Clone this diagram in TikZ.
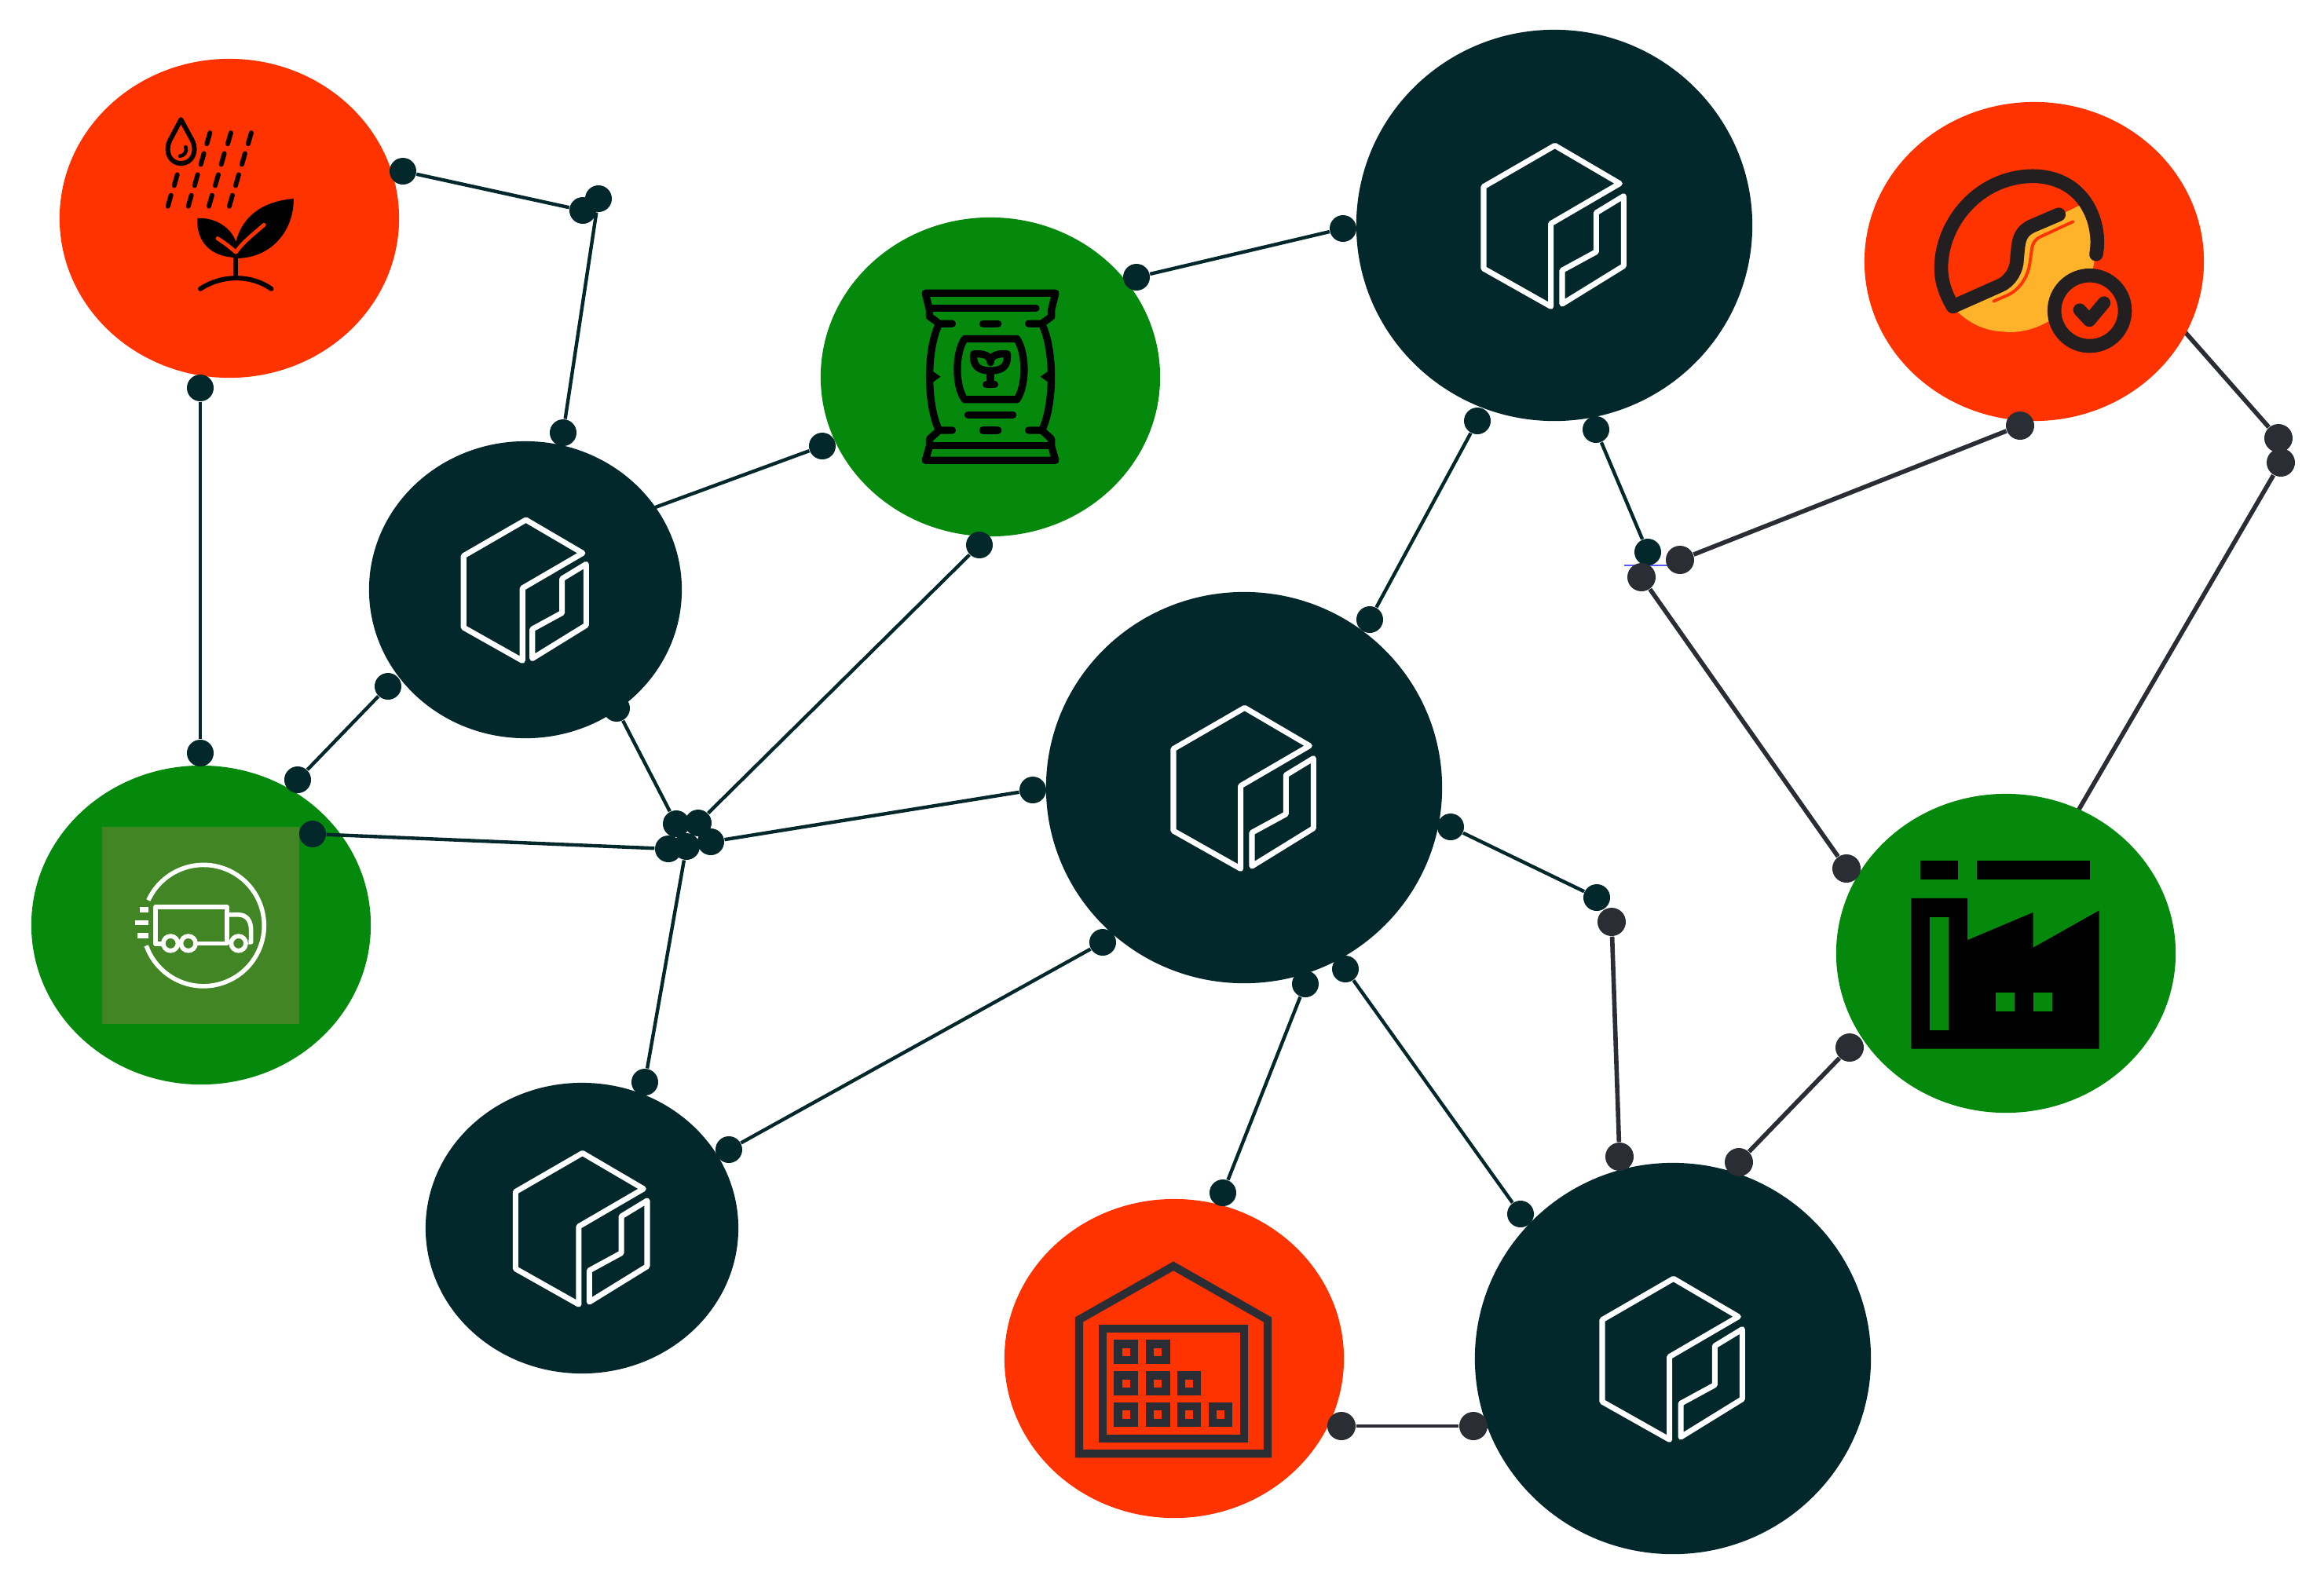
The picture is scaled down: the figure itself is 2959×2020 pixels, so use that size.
\documentclass[tikz,border=0pt]{standalone}
\usepackage{tikz}
\usetikzlibrary{shapes, backgrounds}
\definecolor{hotred}{HTML}{FF3300}
\definecolor{leaf}{HTML}{04890D}
\definecolor{deep}{HTML}{03282B}
\definecolor{slate}{HTML}{2A2D33}
\definecolor{amber}{HTML}{FFB32A}
\definecolor{ink}{HTML}{231F20}
\definecolor{olive}{HTML}{428525}
\tikzstyle{redblob} = [ellipse, fill = hotred, inner sep = 0pt, minimum width = 4.32cm, minimum height = 4.06cm]
\tikzstyle{greenblob} = [ellipse, fill = leaf, inner sep = 0pt, minimum width = 4.32cm, minimum height = 4.06cm]
\tikzstyle{hubbig} = [ellipse, fill = deep, inner sep = 0pt, minimum width = 5.04cm, minimum height = 4.98cm]
\tikzstyle{hubsmall} = [ellipse, fill = deep, inner sep = 0pt, minimum width = 3.98cm, minimum height = 3.78cm]
\tikzstyle{joint} = [circle, fill = deep, inner sep = 0pt, minimum size = 0.34cm]
\tikzstyle{jointg} = [circle, fill = slate, inner sep = 0pt, minimum size = 0.36cm]
\tikzstyle{link} = [draw = deep, line width = 1.25pt]
\tikzstyle{linkg} = [draw = slate, line width = 1.6pt]
\tikzstyle{faint} = [draw = blue!65, line width = 0.5pt]
\tikzstyle{cube} = [draw = white, line width = 2pt, line join = round, line cap = round]
\tikzstyle{stroke} = [line cap = round, line join = round]
\tikzset{crop/.style 2 args = {shift = {(#1, #2)}, x = 0.0033333cm, y = -0.0033333cm}}
\newcommand{\cubeicon}[2]{
	\draw [cube, shift = {(#1)}, scale = #2] (-4.3, 103.3) -- (-90, 55) -- (-90, -49.3) -- (0.7, -101.7) -- (83.3, -53.3) -- (-4.3, -2.3) -- cycle;
	\draw [cube, shift = {(#1)}, scale = #2] (10, 100) -- (10, 57.3) -- (53.3, 33.7) -- (53.3, -16) -- (88.3, -37.3) -- (88.3, 51.7) -- cycle;
}
\begin{document}
\begin{tikzpicture}[x = 0.01cm, y = -0.01cm]
	\useasboundingbox (0, 0) rectangle (2959, 2020);
	% Place nodes
	\node [redblob] (rain) at (292, 278) {};
	\node [greenblob] (bag) at (1261, 480) {};
	\node [redblob] (gauge) at (2590, 333) {};
	\node [greenblob] (truck) at (256, 1178) {};
	\node [greenblob] (factory) at (2554, 1214) {};
	\node [redblob] (warehouse) at (1495, 1730) {};
	\node [hubbig] (hubtop) at (1979, 287) {};
	\node [hubsmall] (hubleft) at (669, 751) {};
	\node [hubbig] (hubmid) at (1584, 1003) {};
	\node [hubsmall, minimum height = 3.7cm] (hublow) at (741, 1564) {};
	\node [hubbig] (hubbot) at (2130, 1730) {};
	\node [joint] (p1) at (513, 218) {};
	\node [joint] (p2) at (742, 268) {};
	\node [joint] (p3) at (762, 253) {};
	\node [joint] (p4) at (717, 551) {};
	\node [joint] (p5) at (255, 494) {};
	\node [joint] (p6) at (255, 959) {};
	\node [joint] (p7) at (494, 874) {};
	\node [joint] (p8) at (379, 993) {};
	\node [joint] (p9) at (398, 1062) {};
	\node [joint] (ja) at (851, 1081) {};
	\node [joint] (jb) at (861, 1049) {};
	\node [joint] (jc) at (889, 1048) {};
	\node [joint] (jd) at (905, 1072) {};
	\node [joint] (je) at (874, 1078) {};
	\node [joint] (p10) at (1247, 694) {};
	\node [joint] (p11) at (1315, 1006) {};
	\node [joint] (p12) at (821, 1378) {};
	\node [joint] (p13) at (1047, 568) {};
	\node [joint] (p14) at (1447, 353) {};
	\node [joint] (p15) at (1710, 291) {};
	\node [joint] (p16) at (1744, 789) {};
	\node [joint] (p17) at (1881, 536) {};
	\node [joint] (p18) at (2032, 547) {};
	\node [joint] (p22) at (1847, 1053) {};
	\node [joint] (p23) at (2033, 1143) {};
	\node [joint] (p26) at (1404, 1200) {};
	\node [joint] (p27) at (928, 1464) {};
	\node [joint] (p28) at (1662, 1253) {};
	\node [joint] (p29) at (1557, 1519) {};
	\node [joint] (p30) at (1713, 1234) {};
	\node [joint] (p31) at (1936, 1546) {};
	\node [jointg] (p32) at (1708, 1816) {};
	\node [jointg] (p33) at (1876, 1816) {};
	\node [jointg] (p25) at (2062, 1473) {};
	\coordinate (bluea) at (2068, 720);
	\coordinate (blueb) at (2123, 720);
	\coordinate (bluec) at (2898, 572);
	\coordinate (blued) at (2912, 572);
	\path [faint] (bluea) -- (blueb);
	\path [faint] (bluec) -- (blued);
	\node [joint] (k1) at (2098, 703) {};
	\node [jointg] (k2) at (2139, 713) {};
	\node [jointg] (k3) at (2090, 735) {};
	\node [jointg] (p19) at (2572, 542) {};
	\node [jointg] (p20) at (2351, 1106) {};
	\node [jointg] (p21) at (2904, 589) {};
	\node [jointg] (p24) at (2052, 1174) {};
	\node [jointg] (p34) at (2214, 1480) {};
	\node [jointg] (p35) at (2355, 1334) {};
	\node [jointg] (p36) at (2901, 558) {};
	% Draw edges
	\path [link] (p1) -- (p2);
	\path [link] (p3) -- (p4);
	\path [link] (p5) -- (p6);
	\path [link] (p7) -- (p8);
	\path [link] (p9) -- (ja);
	\path [link] (jc) -- (p10);
	\path [link] (jd) -- (p11);
	\path [link] (je) -- (p12);
	\path [link] (p14) -- (p15);
	\path [link] (p16) -- (p17);
	\path [link] (p18) -- (k1);
	\path [linkg] (k2) -- (p19);
	\path [linkg] (k3) -- (p20);
	\path [link] (p22) -- (p23);
	\path [linkg] (p24) -- (p25);
	\path [link] (p26) -- (p27);
	\path [link] (p28) -- (p29);
	\path [link] (p30) -- (p31);
	\path [link, draw = slate] (p32) -- (p33);
	\path [linkg] (p34) -- (p35);
	% These ones end behind the blobs
	\begin{pgfonlayer}{background}
		\node [joint] (h1) at (720, 688) {};
		\node [joint] (h2) at (785, 902) {};
		\node [jointg] (h3) at (2740, 375) {};
		\node [jointg] (h4) at (2620, 1077) {};
		\path [link] (p13) -- (h1);
		\path [link] (jb) -- (h2);
		\path [linkg] (p36) -- (h3);
		\path [linkg] (p21) -- (h4);
	\end{pgfonlayer}
	% Cubes
	\cubeicon{hubtop}{1}
	\cubeicon{hubmid}{1}
	\cubeicon{hubbot}{1}
	\cubeicon{hubleft}{0.875}
	\cubeicon{hublow}{0.94}
	% Rain and sprout
	\begin{scope}[crop = {60}{60}]
		\draw [stroke, line width = 1.7pt] (512, 277) -- (468, 360) .. controls (450, 400) and (470, 445) .. (512, 445) .. controls (555, 445) and (575, 400) .. (557, 360) -- cycle;
		\draw [stroke, line width = 1.3pt] (508, 417) .. controls (525, 415) and (537, 400) .. (530, 382);
		\foreach \dx in {623, 703, 781}
			\draw [stroke, line width = 1.7pt] (\dx, 328) -- ++(-12, 42);
		\foreach \dx in {600, 678, 757}
			\draw [stroke, line width = 1.7pt] (\dx, 407) -- ++(-12, 42);
		\foreach \dx in {498, 576, 655, 733}
			\draw [stroke, line width = 1.7pt] (\dx, 488) -- ++(-12, 42);
		\foreach \dx in {474, 552, 631, 709}
			\draw [stroke, line width = 1.7pt] (\dx, 567) -- ++(-12, 42);
		\fill (575, 655) .. controls (640, 650) and (705, 690) .. (722, 745) .. controls (750, 640) and (830, 590) .. (943, 580) .. controls (945, 700) and (860, 805) .. (730, 808) -- (715, 805) .. controls (630, 800) and (570, 750) .. (575, 655);
		\draw [stroke, hotred, line width = 1.4pt] (652, 732) .. controls (680, 750) and (700, 765) .. (722, 785) .. controls (750, 745) and (790, 715) .. (830, 680);
		\draw [line width = 1.7pt] (722, 805) -- (722, 885);
		\draw [stroke, line width = 1.7pt] (586, 925) .. controls (670, 870) and (780, 870) .. (858, 925);
	\end{scope}
	% Bag
	\begin{scope}[crop = {1100}{320}, stroke, line width = 2.65pt]
		\draw (338, 277) -- (288, 277) -- (251, 250) -- (251, 225) -- (235, 160) -- (733, 160) -- (717, 225) -- (717, 250) -- (680, 277) -- (630, 277);
		\draw (251, 218) -- (658, 218);
		\draw (455, 277) -- (513, 277);
		\draw (285, 283) .. controls (240, 380) and (240, 580) .. (285, 680);
		\draw (683, 283) .. controls (728, 380) and (728, 580) .. (683, 680);
		\fill (262, 458) -- (293, 480) -- (262, 502) -- cycle;
		\fill (706, 458) -- (675, 480) -- (706, 502) -- cycle;
		\draw (338, 685) -- (288, 685) -- (251, 718) -- (251, 745) -- (235, 800) -- (733, 800) -- (717, 745) -- (717, 718) -- (680, 685) -- (630, 685);
		\draw (251, 743) -- (717, 743);
		\draw (455, 685) -- (513, 685);
		\draw (398, 626) -- (570, 626);
		\draw (385, 335) -- (585, 335) .. controls (622, 390) and (622, 515) .. (585, 567) -- (385, 567) .. controls (348, 515) and (348, 390) .. cycle;
		\draw (420, 393) .. controls (460, 390) and (484, 400) .. (484, 425) .. controls (484, 400) and (508, 390) .. (548, 393) .. controls (553, 440) and (528, 457) .. (484, 457) .. controls (440, 457) and (415, 440) .. (420, 393);
		\draw (484, 457) -- (484, 510);
		\draw (468, 510) -- (500, 510);
	\end{scope}
	% Gauge
	\begin{scope}[crop = {2400}{180}, stroke]
		\fill [amber] (260, 650) -- (445, 560) -- (505, 450) -- (550, 340) -- (745, 245) .. controls (790, 300) and (820, 380) .. (795, 490) -- (640, 680) .. controls (570, 725) and (500, 735) .. (450, 728) .. controls (380, 725) and (320, 695) .. (270, 645);
		\draw [ink, line width = 5pt] (808, 432) .. controls (830, 320) and (770, 135) .. (565, 133) .. controls (360, 135) and (215, 310) .. (215, 485) .. controls (215, 540) and (235, 590) .. (260, 632) -- (440, 552) .. controls (480, 535) and (505, 490) .. (505, 450) -- (510, 400) .. controls (515, 360) and (530, 340) .. (560, 325) -- (665, 280);
		\draw [hotred, line width = 1.1pt] (415, 612) -- (470, 588) .. controls (520, 565) and (550, 510) .. (555, 460) -- (562, 410) .. controls (567, 385) and (575, 375) .. (595, 365) -- (720, 307);
		\draw [ink, fill = hotred, line width = 5pt] (783, 648) circle (135);
		\draw [ink, line width = 4.7pt] (745, 645) -- (782, 685) -- (838, 618);
	\end{scope}
	% Truck
	\fill [olive] (130, 1053) rectangle (381, 1304);
	\begin{scope}[crop = {110}{1030}, white, line width = 1.6pt]
		\draw (237, 350) arc (204.6:520.6:232);
		\draw [line join = round] (287, 517) -- (265, 517) -- (265, 375) -- (537, 375) -- (537, 515) -- (425, 515);
		\draw [line join = round] (545, 405) -- (580, 405) .. controls (615, 405) and (630, 430) .. (630, 465) -- (630, 510) -- (620, 510);
		\draw (322, 515) circle (28);
		\draw (390, 515) circle (28);
		\draw (582, 515) circle (28);
		\draw [line width = 1.9pt] (205, 386) -- (236, 386);
		\draw [line width = 1.9pt] (185, 436) -- (236, 436);
		\draw [line width = 1.9pt] (195, 486) -- (236, 486);
	\end{scope}
	% Factory
	\begin{scope}[crop = {2400}{1060}]
		\fill (135, 108) rectangle (279, 180);
		\fill (351, 108) rectangle (783, 180);
		\fill (100, 252) -- (316, 252) -- (316, 412) -- (567, 306) -- (567, 441) -- (819, 299) -- (819, 828) -- (100, 828) -- cycle;
		\fill [leaf] (171, 324) rectangle (243, 757);
		\fill [leaf] (423, 612) rectangle (495, 684);
		\fill [leaf] (567, 612) rectangle (639, 684);
	\end{scope}
	% Warehouse
	\begin{scope}[crop = {1340}{1580}, slate]
		\draw [line width = 2.9pt] (102, 815) -- (102, 302) -- (463, 97) -- (823, 302) -- (823, 815) -- cycle;
		\draw [line width = 2.9pt] (192, 337) rectangle (734, 756);
		\foreach \cx/\cy in {282/426, 403/426, 282/546, 403/546, 523/546, 282/666, 403/666, 523/666, 643/666}
			\draw [line width = 2.9pt] (\cx - 31, \cy - 31) rectangle (\cx + 31, \cy + 31);
	\end{scope}
\end{tikzpicture}
\end{document}
